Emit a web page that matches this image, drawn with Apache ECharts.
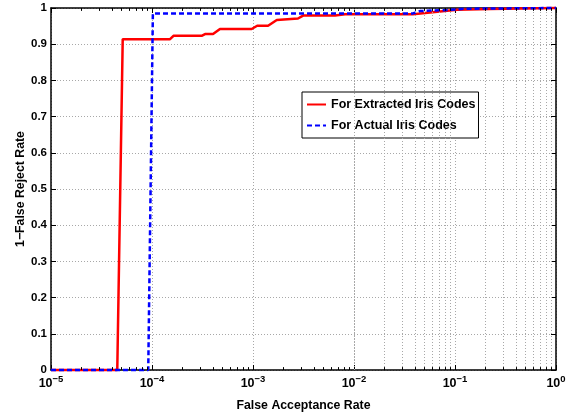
<!DOCTYPE html>
<html>
<head>
<meta charset="utf-8">
<script src="https://cdn.jsdelivr.net/npm/echarts@6/dist/echarts.min.js"></script>
<style>
  html, body { margin: 0; padding: 0; background: #fff; }
  #chart { width: 572px; height: 419px; }
</style>
</head>
<body>
<div id="chart"></div>
<script>
// ROC-style curves: 1 - FRR against FAR (log scale)
const extractedFar = [1e-5, 4.53e-5, 5.13e-5, 1.51e-4, 1.63e-4, 3.10e-4, 3.35e-4, 4.02e-4, 4.71e-4, 9.70e-4,
  1.10e-3, 1.41e-3, 1.72e-3, 2.79e-3, 3.13e-3, 6.49e-3, 8.15e-3, 3.84e-2, 1.05e-1, 2.22e-1, 1];
const extractedGar = [0, 0, 0.914, 0.914, 0.923, 0.923, 0.928, 0.928, 0.942, 0.942,
  0.951, 0.951, 0.967, 0.971, 0.979, 0.979, 0.983, 0.983, 0.995, 0.997, 1];

const actualFar = [1e-5, 9.18e-5, 1.02e-4, 3.84e-2, 4.5e-2, 8.34e-2, 1.26e-1, 1];
const actualGar = [0, 0, 0.985, 0.985, 0.9915, 0.9945, 0.998, 1];

const seriesNames = ['For Extracted Iris Codes', 'For Actual Iris Codes'];

// Decades on the log axis and the minor multipliers between them
const decades = [-5, -4, -3, -2, -1];
const minorMultipliers = [2, 3, 4, 5, 6, 7, 8, 9];

const FONT = 'Liberation Sans, Arial, Helvetica, sans-serif';
const zip = (xs, ys) => xs.map((x, i) => [x, ys[i]]);

const minorValues = [];
decades.forEach(d => minorMultipliers.forEach(m => minorValues.push(m * Math.pow(10, d))));

const gridLine = { color: '#a8a8a8', type: [1, 2], width: 1 };

// Minor grid lines plus short inward minor ticks on the bottom and top edges
const minorGridData = minorValues.map(v => ({ xAxis: v }));
const minorTickData = [];
minorValues.forEach(v => {
  minorTickData.push([{ coord: [v, 0] }, { coord: [v, 0.008] }]);
  minorTickData.push([{ coord: [v, 0.992] }, { coord: [v, 1] }]);
});

const chart = echarts.init(document.getElementById('chart'), null, { renderer: 'canvas' });

const xLabelFmt = value => {
  const e = Math.round(Math.log10(value));
  return '{b|10}{e|' + (e < 0 ? '\u2212' + (-e) : String(e)) + '}';
};

chart.setOption({
  animation: false,
  backgroundColor: '#fff',
  grid: { left: 51, right: 16, top: 8, bottom: 49, containLabel: false },
  legend: {
    data: seriesNames,
    orient: 'vertical',
    left: 302,
    top: 92,
    padding: [6, 3, 6, 4],
    itemGap: 8,
    itemWidth: 19,
    itemHeight: 14,
    itemStyle: { opacity: 0 },
    backgroundColor: '#fff',
    borderColor: '#000',
    borderWidth: 1,
    borderRadius: 0,
    textStyle: { fontFamily: FONT, fontWeight: 'bold', fontSize: 12.5, color: '#000' }
  },
  xAxis: [
    {
      type: 'log', logBase: 10, min: 1e-5, max: 1,
      name: 'False Acceptance Rate', nameLocation: 'middle', nameGap: 30, nameMoveOverlap: false,
      nameTextStyle: { fontFamily: FONT, fontWeight: 'bold', fontSize: 12.3, color: '#000' },
      axisLine: { show: true, onZero: false, lineStyle: { color: '#000', width: 1.5 } },
      axisTick: { show: true, inside: true, length: 5, lineStyle: { color: '#000' } },
      axisLabel: {
        margin: 4,
        formatter: xLabelFmt,
        rich: {
          b: { fontFamily: FONT, fontWeight: 'bold', fontSize: 12.5, color: '#000', verticalAlign: 'bottom', lineHeight: 16 },
          e: { fontFamily: FONT, fontWeight: 'bold', fontSize: 9.5, color: '#000', verticalAlign: 'top', lineHeight: 16, padding: [0, 0, 6, 0] }
        }
      },
      splitLine: { show: true, lineStyle: gridLine }
    },
    {
      type: 'log', logBase: 10, min: 1e-5, max: 1, position: 'top',
      axisLine: { show: true, onZero: false, lineStyle: { color: '#000', width: 1.5 } },
      axisTick: { show: true, inside: true, length: 5, lineStyle: { color: '#000' } },
      axisLabel: { show: false },
      splitLine: { show: false }
    }
  ],
  yAxis: [
    {
      type: 'value', min: 0, max: 1, interval: 0.1,
      name: '1\u2212False Reject Rate', nameLocation: 'middle', nameGap: 24, nameMoveOverlap: false,
      nameTextStyle: { fontFamily: FONT, fontWeight: 'bold', fontSize: 12.3, color: '#000' },
      axisLine: { show: true, onZero: false, lineStyle: { color: '#000', width: 1.5 } },
      axisTick: { show: true, inside: true, length: 5, lineStyle: { color: '#000' } },
      axisLabel: {
        margin: 4,
        fontFamily: FONT, fontWeight: 'bold', fontSize: 11.5, color: '#000',
        formatter: v => (v === 0 ? '0' : v === 1 ? '1' : v.toFixed(1))
      },
      splitLine: { show: true, lineStyle: gridLine }
    },
    {
      type: 'value', min: 0, max: 1, interval: 0.1, position: 'right',
      axisLine: { show: true, onZero: false, lineStyle: { color: '#000', width: 1.5 } },
      axisTick: { show: true, inside: true, length: 5, lineStyle: { color: '#000' } },
      axisLabel: { show: false },
      splitLine: { show: false }
    }
  ],
  series: [
    {
      name: 'minor-grid',
      type: 'line',
      data: [],
      z: 1,
      silent: true,
      markLine: {
        silent: true,
        symbol: 'none',
        label: { show: false },
        animation: false,
        lineStyle: gridLine,
        data: minorGridData
      }
    },
    {
      name: 'minor-ticks',
      type: 'line',
      data: [],
      z: 1,
      silent: true,
      markLine: {
        silent: true,
        symbol: 'none',
        label: { show: false },
        animation: false,
        lineStyle: { color: '#000', type: 'solid', width: 1 },
        data: minorTickData
      }
    },
    {
      name: seriesNames[0],
      type: 'line',
      data: zip(extractedFar, extractedGar),
      showSymbol: false,
      symbol: 'none',
      clip: false,
      z: 3,
      color: '#ff0000',
      lineStyle: { color: '#ff0000', width: 2.5, type: 'solid' }
    },
    {
      name: seriesNames[1],
      type: 'line',
      data: zip(actualFar, actualGar),
      showSymbol: false,
      symbol: 'none',
      clip: false,
      z: 4,
      color: '#0000ff',
      lineStyle: { color: '#0000ff', width: 2.5, type: [5, 3] }
    }
  ]
});
</script>
</body>
</html>
